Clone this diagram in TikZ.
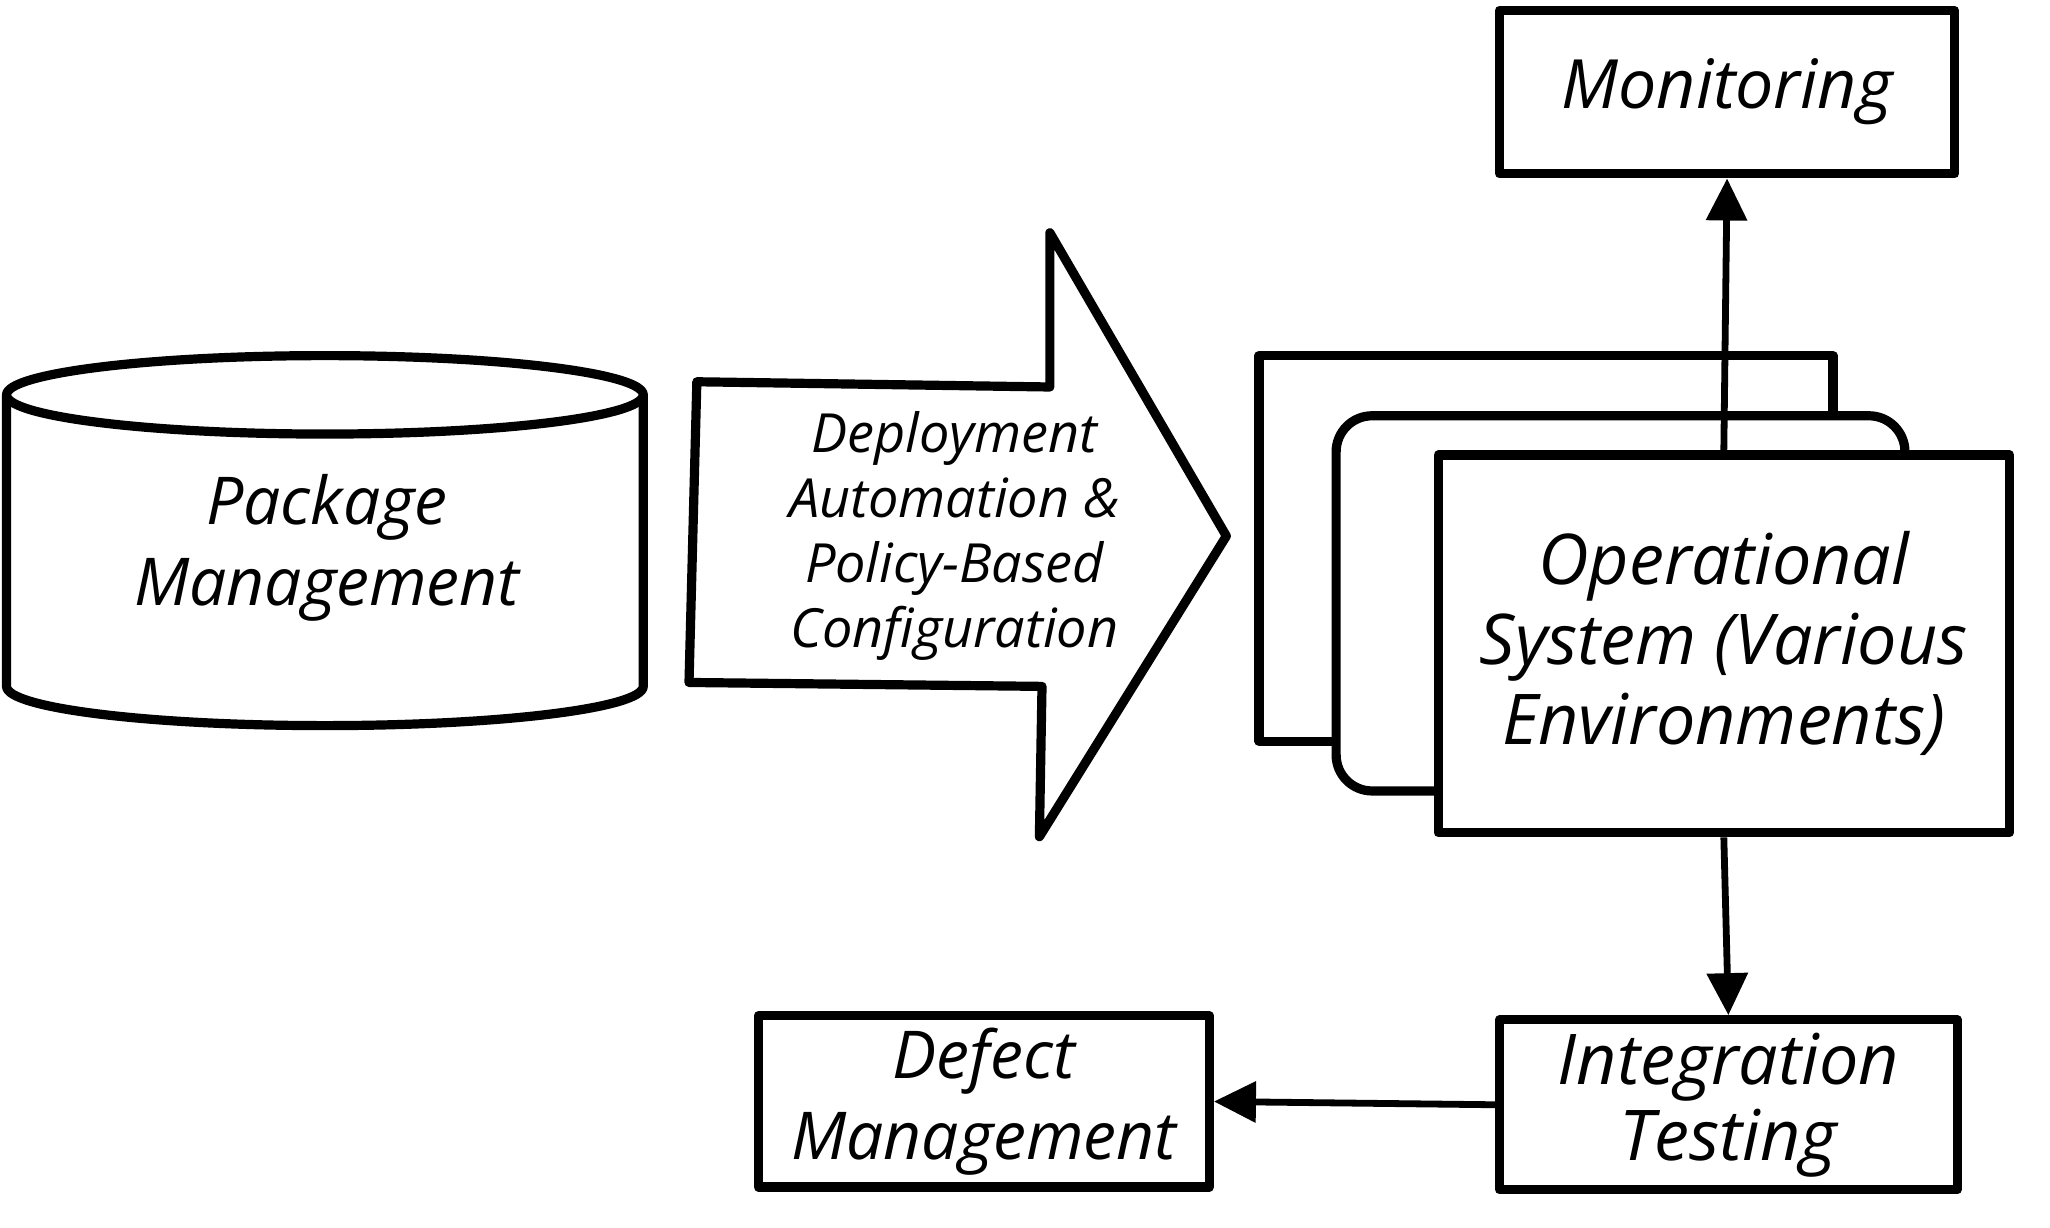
\documentclass[tikz,border=0pt]{standalone}
\usepackage{fontspec}
\setmainfont{Open Sans}
\usetikzlibrary{arrows.meta}
\tikzset{
  box/.style={draw, fill=white, line width=4.6pt, line join=round, inner sep=0pt, align=center},
  lbl/.style={align=center, font=\itshape\fontsize{33}{40.5}\selectfont},
  conn/.style={line width=3.4pt, -{Triangle[length=21pt,width=20pt]}},
  shape line/.style={draw, fill=white, line width=4.6pt, line join=round, line cap=round}
}
\begin{document}
\begin{tikzpicture}[x=0.6537pt, y=-0.6537pt]
\useasboundingbox (0,0) rectangle (1568,939);
% cylinder
\path[shape line] (5,302) -- (5,525) arc[start angle=180, end angle=0, x radius=243.5, y radius=30] -- (492,302);
\path[shape line] (248.5,302) ellipse[x radius=243.5, y radius=30];
\node[lbl] (pkg) at (250,419) {Package\\Management};
% big arrow
\path[shape line] (533,292) -- (803,296) -- (803,178) -- (938,410) -- (795,640) -- (797,525) -- (527,522) -- cycle;
\node[lbl, font=\itshape\fontsize{27}{32.5}\selectfont] (deploy) at (730,410) {Deployment\\Automation \&\\Policy-Based\\Configuration};
% stacked environment boxes
\node[box, minimum width=287pt, minimum height=192.8pt] (env1) at (1182.5,419.5) {};
\node[box, rounded corners=18pt, minimum width=284.4pt, minimum height=187.6pt] (env2) at (1239.5,461.5) {};
\node[box, minimum width=285.7pt, minimum height=188.9pt, font=\itshape\fontsize{35}{40}\selectfont] (ops) at (1318.5,492.5) {Operational\\System (Various\\Environments)};
% other boxes
\node[box, minimum width=227.5pt, minimum height=81.7pt, font=\itshape\fontsize{34}{40}\selectfont] (mon) at (1321,70.5) {Monitoring};
\node[box, minimum width=228.8pt, minimum height=85pt, font=\itshape\fontsize{35}{38}\selectfont] (intg) at (1322,845) {Integration\\Testing};
\node[box, minimum width=225.5pt, minimum height=85.6pt, font=\itshape\fontsize{33}{40.5}\selectfont] (defect) at (752.5,842.5) {Defect\\Management};
% connectors
\draw[conn] (ops.north) -- (mon.south);
\draw[conn] (ops.south) -- (intg.north);
\draw[conn] (intg.west) -- (defect.east);
\end{tikzpicture}
\end{document}
